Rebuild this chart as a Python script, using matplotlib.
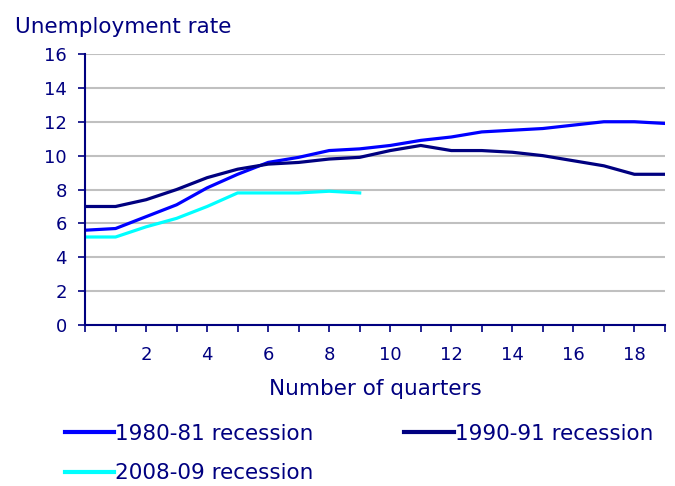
import numpy as np
from matplotlib import pyplot as plt

# unemployment rate by quarter since start of recession
rec_1980 = [5.6, 5.7, 6.4, 7.1, 8.1, 8.9, 9.6, 9.9, 10.3, 10.4,
            10.6, 10.9, 11.1, 11.4, 11.5, 11.6, 11.8, 12.0, 12.0, 11.9]
rec_1990 = [7.0, 7.0, 7.4, 8.0, 8.7, 9.2, 9.5, 9.6, 9.8, 9.9,
            10.3, 10.6, 10.3, 10.3, 10.2, 10.0, 9.7, 9.4, 8.9, 8.9]
rec_2008 = [5.2, 5.2, 5.8, 6.3, 7.0, 7.8, 7.8, 7.8, 7.9, 7.8]
labels = ['1980-81 recession', '1990-91 recession', '2008-09 recession']
colors = ['#0000ff', '#000080', '#00ffff']

navy = '#000080'
plt.rcParams['font.family'] = 'DejaVu Sans'

fig = plt.figure(figsize=(6.75, 4.86), dpi=100)
ax = fig.add_axes([0.126, 0.331, 0.859, 0.558])

lines = []
for data, lab, c in zip([rec_1980, rec_1990, rec_2008], labels, colors):
    ln, = ax.plot(np.arange(len(data)), data, color=c, lw=2.3, label=lab)
    lines.append(ln)

ax.set_xlim(0, 19)
ax.set_ylim(0, 16)
ax.set_yticks(np.arange(0, 17, 2))
ax.set_xticks(np.arange(0, 20, 1))
ax.set_xticklabels([str(i) if (i % 2 == 0 and i > 0) else '' for i in range(20)])
ax.grid(axis='y', color='#c0c0c0', lw=1.5)
ax.set_axisbelow(True)

for s in ['top', 'right']:
    ax.spines[s].set_visible(False)
for s in ['left', 'bottom']:
    ax.spines[s].set_color(navy)
    ax.spines[s].set_linewidth(1.5)
ax.tick_params(colors=navy, labelcolor=navy, length=5, width=1.2, labelsize=13)
ax.tick_params(axis='y', pad=8)
ax.tick_params(axis='x', pad=10)

ax.set_xlabel('Number of quarters', color=navy, fontsize=15.5, labelpad=11)
fig.text(0.022, 0.944, 'Unemployment rate', color=navy, fontsize=15.5, va='center')

# order so rows read 1980, 1990 / 2008
order = [0, 2, 1]
leg = fig.legend([lines[i] for i in order], [labels[i] for i in order],
                 loc='upper left', bbox_to_anchor=(0.096, 0.128), ncol=2,
                 frameon=False, handlelength=2.3, handletextpad=0.05,
                 columnspacing=4.2, labelspacing=0.9, fontsize=15.5,
                 borderpad=0, borderaxespad=0)
for t in leg.get_texts():
    t.set_color(navy)
for h in leg.legend_handles:
    h.set_linewidth(3)

fig.savefig('out.png', dpi=100)
